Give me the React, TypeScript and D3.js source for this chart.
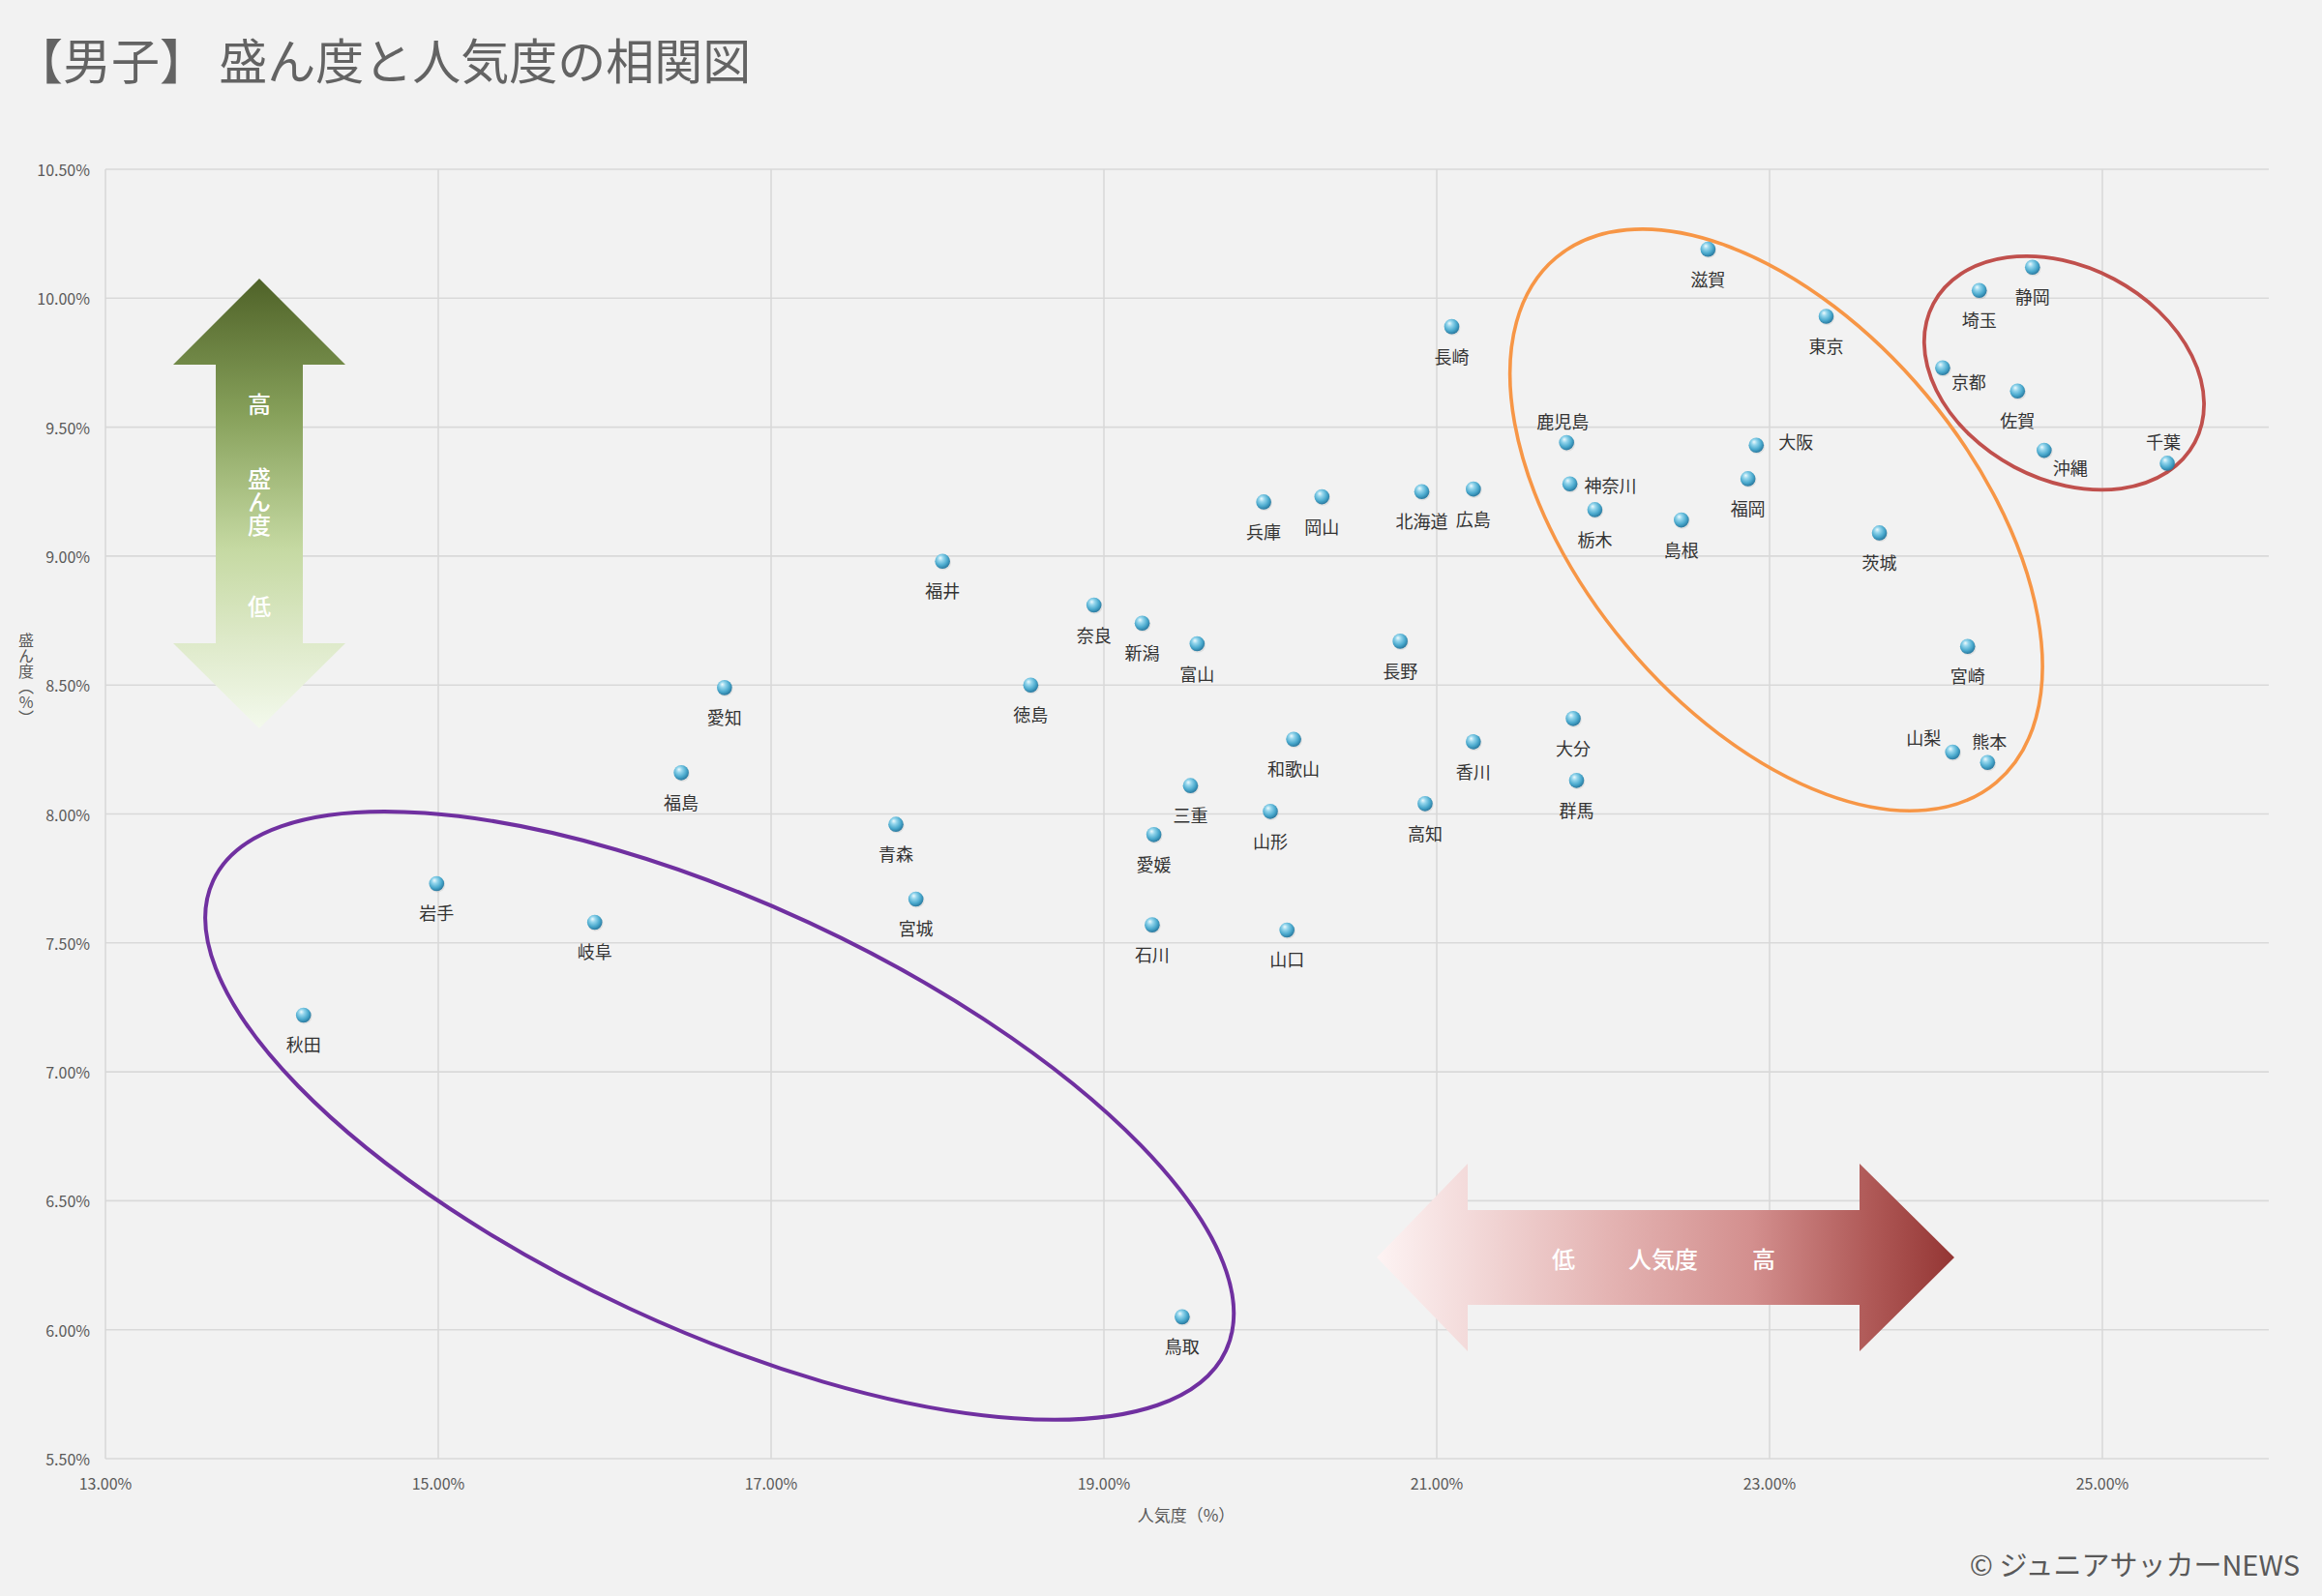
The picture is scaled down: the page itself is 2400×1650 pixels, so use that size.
import React from 'react';
import * as d3 from 'd3';

// ---------- data ----------
const prefectures = [
  '北海道', '青森', '岩手', '宮城', '秋田', '山形', '福島', '茨城', '栃木', '群馬',
  '埼玉', '千葉', '東京', '神奈川', '新潟', '富山', '石川', '福井', '山梨', '長野',
  '岐阜', '静岡', '愛知', '三重', '滋賀', '京都', '大阪', '兵庫', '奈良', '和歌山',
  '鳥取', '島根', '岡山', '広島', '山口', '徳島', '香川', '愛媛', '高知', '福岡',
  '佐賀', '長崎', '熊本', '大分', '宮崎', '鹿児島', '沖縄',
];
// 人気度 (%)
const popularity = [
  20.91, 17.75, 14.99, 17.87, 14.19, 20.0, 16.46, 23.66, 21.95, 21.84,
  24.26, 25.39, 23.34, 21.8, 19.23, 19.56, 19.29, 18.03, 24.1, 20.78,
  15.94, 24.58, 16.72, 19.52, 22.63, 24.04, 22.92, 19.96, 18.94, 20.14,
  19.47, 22.47, 20.31, 21.22, 20.1, 18.56, 21.22, 19.3, 20.93, 22.87,
  24.49, 21.09, 24.31, 21.82, 24.19, 21.78, 24.65,
];
// 盛ん度 (%)
const prevalence = [
  9.25, 7.96, 7.73, 7.67, 7.22, 8.01, 8.16, 9.09, 9.18, 8.13,
  10.03, 9.36, 9.93, 9.28, 8.74, 8.66, 7.57, 8.98, 8.24, 8.67,
  7.58, 10.12, 8.49, 8.11, 10.19, 9.73, 9.43, 9.21, 8.81, 8.29,
  6.05, 9.14, 9.23, 9.26, 7.55, 8.5, 8.28, 7.92, 8.04, 9.3,
  9.64, 9.89, 8.2, 8.37, 8.65, 9.44, 9.41,
];
const xTicks = [13, 15, 17, 19, 21, 23, 25];
const yTicks = [5.5, 6, 6.5, 7, 7.5, 8, 8.5, 9, 9.5, 10, 10.5];

const titleText = '【男子】 盛ん度と人気度の相関図';
const xTitle = '人気度（%）';
const yTitle = '盛ん度（%）';
const creditText = '© ジュニアサッカーNEWS';

// annotation groups (centre in data units)
const groupCenters = [
  { cx: 16.69, cy: 6.83 },
  { cx: 23.04, cy: 9.14 },
  { cx: 24.77, cy: 9.71 },
];

// ---------- styles / layout ----------
const W = 2400;
const H = 1650;
const PLOT = { left: 109, right: 2345, top: 175, bottom: 1508 };
const FONT = "'Noto Sans CJK JP', 'Noto Sans', sans-serif";
const GRID = '#d9d9d9';

const ellipseStyles = [
  { rx: 577, ry: 220, angle: 24.9, color: '#7030a0', width: 4 },
  { rx: 354, ry: 202, angle: 50, color: '#f79646', width: 3.6 },
  { rx: 153, ry: 110, angle: 28, color: '#c0504d', width: 3.8 },
];

// label placement: [dx, dy, anchor]
const labelPlacement: Record<string, [number, number, string]> = {
  鹿児島: [-4, -23, 'middle'],
  神奈川: [15, 1, 'start'],
  大阪: [23, -4, 'start'],
  京都: [9, 14, 'start'],
  沖縄: [9, 17, 'start'],
  千葉: [-4, -23, 'middle'],
  山梨: [-30, -16, 'middle'],
  熊本: [2, -22, 'middle'],
};
const defaultPlacement: [number, number, string] = [0, 30, 'middle'];

export default function App() {
  const x = d3.scaleLinear().domain([13, 26]).range([PLOT.left, PLOT.right]);
  const y = d3.scaleLinear().domain([5.5, 10.5]).range([PLOT.bottom, PLOT.top]);
  const pct = d3.format('.2f');

  const points = prefectures.map((name, i) => ({
    name,
    px: x(popularity[i]),
    py: y(prevalence[i]),
  }));

  // green vertical arrow geometry
  const g = { cx: 268, top: 288, headB1: 377, headB2: 665, bottom: 753, headHalf: 89, shaftHalf: 45 };
  const greenPath = [
    [g.cx, g.top],
    [g.cx + g.headHalf, g.headB1],
    [g.cx + g.shaftHalf, g.headB1],
    [g.cx + g.shaftHalf, g.headB2],
    [g.cx + g.headHalf, g.headB2],
    [g.cx, g.bottom],
    [g.cx - g.headHalf, g.headB2],
    [g.cx - g.shaftHalf, g.headB2],
    [g.cx - g.shaftHalf, g.headB1],
    [g.cx - g.headHalf, g.headB1],
  ];
  // pink horizontal arrow geometry
  const p = { cy: 1300, left: 1423, headL: 1517, headR: 1922, right: 2020, headHalf: 97, shaftHalf: 49 };
  const pinkPath = [
    [p.left, p.cy],
    [p.headL, p.cy - p.headHalf],
    [p.headL, p.cy - p.shaftHalf],
    [p.headR, p.cy - p.shaftHalf],
    [p.headR, p.cy - p.headHalf],
    [p.right, p.cy],
    [p.headR, p.cy + p.headHalf],
    [p.headR, p.cy + p.shaftHalf],
    [p.headL, p.cy + p.shaftHalf],
    [p.headL, p.cy + p.headHalf],
  ];
  const toD = (pts: number[][]) => 'M' + pts.map((q) => q.join(',')).join('L') + 'Z';
  const vertical: React.CSSProperties = { writingMode: 'vertical-rl' as any, textOrientation: 'upright' as any };

  return (
    <>
      <style>{`body{margin:0;background:#f2f2f2;} svg{display:block;}`}</style>
      <svg width={W} height={H} viewBox={`0 0 ${W} ${H}`} style={{ background: '#f2f2f2' }}>
        <defs>
          <radialGradient id="ball" cx="42%" cy="38%" r="62%" fx="35%" fy="28%">
            <stop offset="0%" stopColor="#eefafd" />
            <stop offset="30%" stopColor="#93d5ec" />
            <stop offset="70%" stopColor="#4aa9cd" />
            <stop offset="100%" stopColor="#2a7aa0" />
          </radialGradient>
          <linearGradient id="greenGrad" x1="0" y1="0" x2="0" y2="1">
            <stop offset="0%" stopColor="#4f6228" />
            <stop offset="30%" stopColor="#86a05a" />
            <stop offset="60%" stopColor="#c5d9a2" />
            <stop offset="80%" stopColor="#dde9c8" />
            <stop offset="100%" stopColor="#f3f9ec" />
          </linearGradient>
          <linearGradient id="pinkGrad" x1="0" y1="0" x2="1" y2="0">
            <stop offset="0%" stopColor="#fdf3f3" />
            <stop offset="40%" stopColor="#e4b4b3" />
            <stop offset="65%" stopColor="#d38f8e" />
            <stop offset="85%" stopColor="#b05a58" />
            <stop offset="100%" stopColor="#943634" />
          </linearGradient>
        </defs>

        {/* title */}
        <text x={15} y={82} fontFamily={FONT} fontSize={50} fill="#636363">
          {titleText}
        </text>

        {/* gridlines */}
        {yTicks.map((t) => (
          <line key={'gy' + t} x1={PLOT.left} x2={PLOT.right} y1={y(t)} y2={y(t)} stroke={GRID} strokeWidth={1.6} />
        ))}
        {xTicks.map((t) => (
          <line key={'gx' + t} x1={x(t)} x2={x(t)} y1={PLOT.top} y2={PLOT.bottom} stroke={GRID} strokeWidth={1.6} />
        ))}

        {/* tick labels */}
        {yTicks.map((t) => (
          <text key={'ty' + t} x={93} y={y(t)} textAnchor="end" dominantBaseline="central"
            fontFamily={FONT} fontSize={16} fill="#595959">
            {pct(t) + '%'}
          </text>
        ))}
        {xTicks.map((t) => (
          <text key={'tx' + t} x={x(t)} y={1533} textAnchor="middle" dominantBaseline="central"
            fontFamily={FONT} fontSize={16} fill="#595959">
            {pct(t) + '%'}
          </text>
        ))}

        {/* axis titles */}
        <text x={1226} y={1565} textAnchor="middle" dominantBaseline="central" fontFamily={FONT} fontSize={17} fill="#595959">
          {xTitle}
        </text>
        <text x={27} y={654} fontFamily={FONT} fontSize={16} fill="#595959" style={vertical}>
          {yTitle}
        </text>

        {/* green arrow */}
        <path d={toD(greenPath)} fill="url(#greenGrad)" />
        {[
          { t: '高', y: 406 },
          { t: '盛ん度', y: 483 },
          { t: '低', y: 615 },
        ].map((o) => (
          <text key={'ga' + o.t} x={g.cx} y={o.y} fontFamily={FONT} fontSize={24} fontWeight={500}
            fill="#ffffff" style={vertical}>
            {o.t}
          </text>
        ))}

        {/* pink arrow */}
        <path d={toD(pinkPath)} fill="url(#pinkGrad)" />
        {[
          { t: '低', x: 1616 },
          { t: '人気度', x: 1719 },
          { t: '高', x: 1823 },
        ].map((o) => (
          <text key={'pa' + o.t} x={o.x} y={p.cy} textAnchor="middle" dominantBaseline="central"
            fontFamily={FONT} fontSize={24} fontWeight={500} fill="#ffffff">
            {o.t}
          </text>
        ))}

        {/* group ellipses */}
        {groupCenters.map((gc, i) => {
          const s = ellipseStyles[i];
          const cx = x(gc.cx);
          const cy = y(gc.cy);
          return (
            <ellipse key={'el' + i} cx={cx} cy={cy} rx={s.rx} ry={s.ry}
              transform={`rotate(${s.angle} ${cx} ${cy})`}
              fill="none" stroke={s.color} strokeWidth={s.width} />
          );
        })}

        {/* points */}
        {points.map((d) => (
          <g key={d.name}>
            <circle cx={d.px + 0.8} cy={d.py + 1.2} r={8} fill="#000" opacity={0.08} />
            <circle cx={d.px} cy={d.py} r={7.8} fill="url(#ball)" />
          </g>
        ))}
        {points.map((d) => {
          const [dx, dy, anchor] = labelPlacement[d.name] || defaultPlacement;
          return (
            <text key={'lb' + d.name} x={d.px + dx} y={d.py + dy} textAnchor={anchor as any}
              dominantBaseline="central" fontFamily={FONT} fontSize={18} fill="#333333">
              {d.name}
            </text>
          );
        })}

        {/* credit */}
        <text x={2377} y={1616} textAnchor="end" dominantBaseline="central" fontFamily={FONT} fontSize={29} fill="#595959">
          {creditText}
        </text>
      </svg>
    </>
  );
}
